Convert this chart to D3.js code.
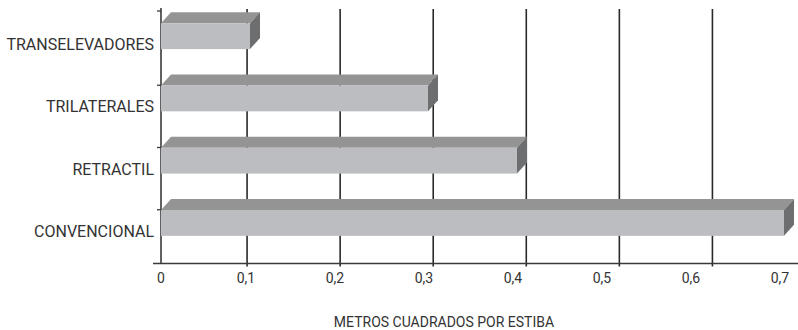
<!DOCTYPE html>
<html>
<head>
<meta charset="utf-8">
<script src="https://cdn.jsdelivr.net/npm/d3@7"></script>
<style>
  html, body { margin: 0; padding: 0; background: #fff; }
  svg { display: block; font-family: Roboto, "Liberation Sans", sans-serif; }
</style>
</head>
<body>
<svg id="chart" width="798" height="330"></svg>
<script>
// Square metres per pallet by storage system
const categories = ["TRANSELEVADORES", "TRILATERALES", "RETRACTIL", "CONVENCIONAL"];
const values = [0.1, 0.3, 0.4, 0.7];
const tickValues = [0, 0.1, 0.2, 0.3, 0.4, 0.5, 0.6, 0.7];
const tickLabels = ["0", "0,1", "0,2", "0,3", "0,4", "0,5", "0,6", "0,7"];
const axisTitle = "METROS CUADRADOS POR ESTIBA";

const svg = d3.select("#chart");

// front plane scale (bars, tick labels) and back-wall scale (gridlines)
const x = d3.scaleLinear().domain([0, 0.7]).range([161, 784]);
const xWall = d3.scaleLinear().domain([0, 0.7]).range([154, 805.5]);
const y = d3.scaleBand().domain(categories).range([13, 262]);

const depthX = 10, depthY = -11;
const axisY = 263.5;
const plotTop = 9;

// back-wall gridlines
svg.append("g").selectAll("line")
  .data(tickValues.filter(d => d > 0))
  .join("line")
  .attr("x1", d => xWall(d)).attr("x2", d => xWall(d))
  .attr("y1", plotTop).attr("y2", axisY + 3)
  .attr("stroke", "#2a2a2a").attr("stroke-width", 1.6);

// category axis line
svg.append("line")
  .attr("x1", x(0)).attr("x2", x(0))
  .attr("y1", plotTop - 1).attr("y2", axisY)
  .attr("stroke", "#3a3a3a").attr("stroke-width", 1.6);

// category separators on the axis
const sepY = [plotTop + 2].concat(d3.range(1, categories.length).map(i => y.range()[0] + i * y.step() + 10));
svg.append("g").selectAll("line")
  .data(sepY)
  .join("line")
  .attr("x1", x(0) - 4).attr("x2", x(0))
  .attr("y1", d => d).attr("y2", d => d)
  .attr("stroke", "#3a3a3a").attr("stroke-width", 1.3);

// value axis line
svg.append("line")
  .attr("x1", x(0) - 8).attr("x2", 798)
  .attr("y1", axisY).attr("y2", axisY)
  .attr("stroke", "#3a3a3a").attr("stroke-width", 1.6);

// bars: front, top and side faces
const bw = y.bandwidth();
const barTop = d => y(d) + bw * 0.165;
const barH = bw * 0.415;

const bars = svg.append("g").selectAll("g")
  .data(categories.map((c, i) => ({ c, v: values[i] })))
  .join("g");

bars.append("path")
  .attr("fill", "#949495")
  .attr("d", d => {
    const x0 = x(0), x1 = x(d.v), t = barTop(d.c);
    return `M${x0},${t}L${x0 + depthX},${t + depthY}L${x1 + depthX},${t + depthY}L${x1},${t}Z`;
  });

bars.append("path")
  .attr("fill", "#6d6e70")
  .attr("d", d => {
    const x1 = x(d.v), t = barTop(d.c), b = t + barH;
    return `M${x1},${t}L${x1 + depthX},${t + depthY}L${x1 + depthX},${b + depthY}L${x1},${b}Z`;
  });

bars.append("rect")
  .attr("fill", "#bcbdc0")
  .attr("x", x(0))
  .attr("y", d => barTop(d.c))
  .attr("width", d => x(d.v) - x(0))
  .attr("height", barH);

// category labels
svg.append("g").selectAll("text")
  .data(categories)
  .join("text")
  .attr("x", 154)
  .attr("y", d => y(d) + bw / 2 + 6)
  .attr("text-anchor", "end")
  .attr("font-size", 16)
  .attr("fill", "#333")
  .text(d => d);

// value tick labels
svg.append("g").selectAll("text")
  .data(tickValues)
  .join("text")
  .attr("x", (d, i) => x(d) - (i ? 4 : 0))
  .attr("y", 282.5)
  .attr("text-anchor", "middle")
  .attr("font-size", 14)
  .attr("fill", "#333")
  .text((d, i) => tickLabels[i]);

// axis title
svg.append("text")
  .attr("x", 444)
  .attr("y", 327)
  .attr("text-anchor", "middle")
  .attr("font-size", 14)
  .attr("fill", "#333")
  .text(axisTitle);
</script>
</body>
</html>
